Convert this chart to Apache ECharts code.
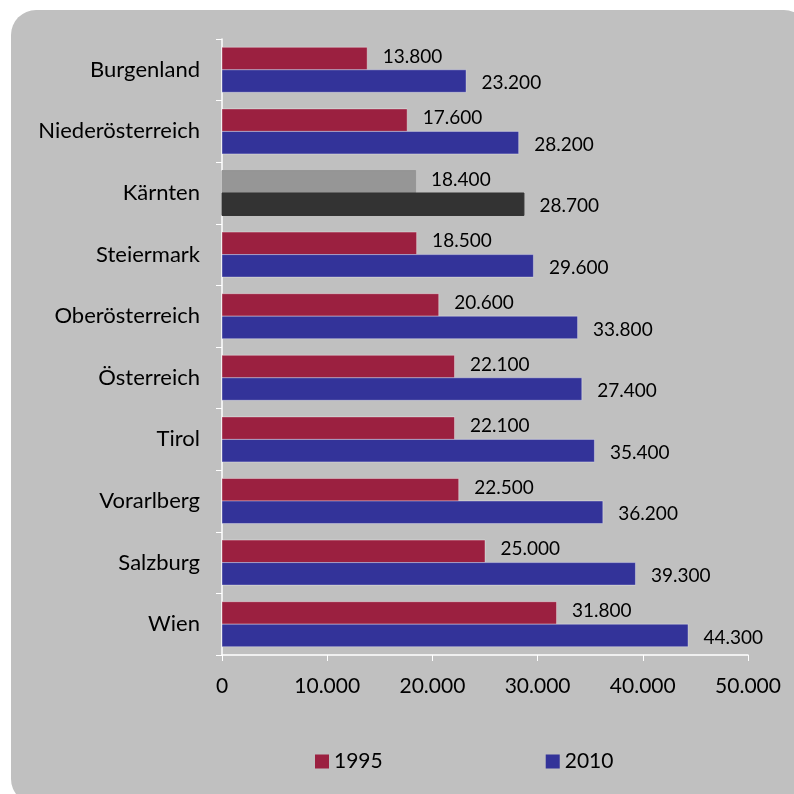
<!DOCTYPE html>
<html lang="de">
<head>
    <meta charset="UTF-8">
    <title>Regionen 1995 / 2010</title>
    <script src="https://cdn.jsdelivr.net/npm/echarts@6/dist/echarts.min.js"></script>
</head>
<style>
    *{
        margin: 0;
        padding: 0;
    }
    html, body{
        width: 794px;
        height: 794px;
        background: #fff;
    }
    .container{
        width: 794px;
        height: 794px;
    }
</style>
<body>
<div class="container"></div>
<script>
    // Daten (von oben nach unten)
    const regions = ['Burgenland', 'Niederösterreich', 'Kärnten', 'Steiermark', 'Oberösterreich',
        'Österreich', 'Tirol', 'Vorarlberg', 'Salzburg', 'Wien'];
    const values1995 = [13800, 17600, 18400, 18500, 20600, 22100, 22100, 22500, 25000, 31800];
    // Balkenlänge wie im Bild; Österreich-Balken ist länger als sein Label
    const values2010 = [23200, 28200, 28700, 29600, 33800, 34200, 35400, 36200, 39300, 44300];
    const labels2010 = ['23.200', '28.200', '28.700', '29.600', '33.800', '27.400', '35.400', '36.200', '39.300', '44.300'];
    const xTicks = [0, 10000, 20000, 30000, 40000, 50000];
    const highlight = 'Kärnten';

    const fmt = v => v === 0 ? '0' : v.toLocaleString('de-DE');
    const FONT = 'Lato';

    let container = document.querySelector('.container');
    let mycharts = echarts.init(container);

    function buildData(values, colorNormal, colorHi, labelTexts) {
        return values.map((v, i) => ({
            value: v,
            itemStyle: {
                color: regions[i] === highlight ? colorHi : colorNormal,
                borderColor: regions[i] === highlight ? colorHi : 'rgba(255,255,255,0.35)'
            },
            label: { formatter: labelTexts ? labelTexts[i] : fmt(v) }
        }));
    }

    let options = {
        backgroundColor: '#fff',
        textStyle: { fontFamily: FONT },
        graphic: [{
            type: 'rect',
            z: -10,
            shape: { x: 11, y: 10, width: 798, height: 794, r: 25 },
            style: { fill: '#c0c0c0' }
        }],
        grid: {
            left: 222,
            right: 46,
            top: 39,
            bottom: 139
        },
        legend: {
            data: ['1995', '2010'],
            bottom: 17,
            left: 310,
            itemWidth: 14,
            itemHeight: 14,
            itemGap: 163,
            icon: 'rect',
            textStyle: { fontFamily: FONT, fontSize: 21, color: '#000' }
        },
        xAxis: {
            type: 'value',
            min: xTicks[0],
            max: xTicks[xTicks.length - 1],
            interval: 10000,
            splitLine: { show: false },
            axisLine: { show: true, lineStyle: { color: '#fff', width: 1.5 } },
            axisTick: { show: true, length: 6, lineStyle: { color: '#fff' } },
            axisLabel: {
                formatter: fmt,
                fontFamily: FONT,
                fontSize: 21,
                color: '#000',
                margin: 21
            }
        },
        yAxis: {
            type: 'category',
            data: regions,
            inverse: true,
            axisLine: { show: true, lineStyle: { color: '#fff', width: 1.5 } },
            axisTick: { show: true, length: 6, lineStyle: { color: '#fff' } },
            axisLabel: {
                fontFamily: FONT,
                fontSize: 22,
                color: '#000',
                margin: 22
            }
        },
        series: [
            {
                name: '1995',
                type: 'bar',
                color: '#9b2040',
                data: buildData(values1995, '#9b2040', '#969696'),
                barGap: '0%',
                barCategoryGap: '27%',
                label: {
                    show: true,
                    position: 'right',
                    distance: 15,
                    offset: [0, -2],
                    fontFamily: FONT,
                    fontSize: 19,
                    color: '#000'
                }
            },
            {
                name: '2010',
                type: 'bar',
                color: '#333399',
                data: buildData(values2010, '#333399', '#333333', labels2010),
                barGap: '0%',
                barCategoryGap: '27%',
                label: {
                    show: true,
                    position: 'right',
                    distance: 15,
                    offset: [0, 2],
                    fontFamily: FONT,
                    fontSize: 19,
                    color: '#000'
                }
            }
        ]
    };

    mycharts.setOption(options);
</script>
</body>
</html>
